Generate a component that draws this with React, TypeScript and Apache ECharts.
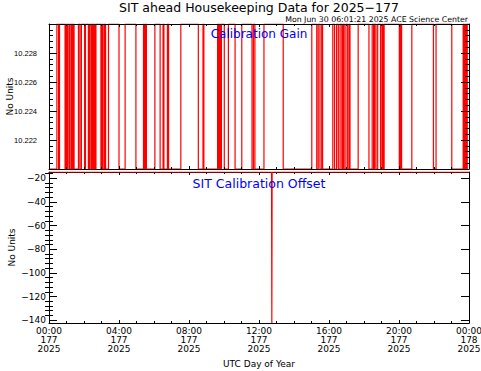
import React, { useEffect, useRef } from "react";
import * as echarts from "echarts";

// ---- data (minutes after 00:00 UTC of day 177) ----
const titleText = "SIT ahead Housekeeping Data for 2025\u2212177";
const stampText = "Mon Jun 30 06:01:21 2025 ACE Science Center";
const gainPanelLabel = "Calibration Gain";
const offsetPanelLabel = "SIT Calibration Offset";
const yAxisName = "No Units";
const xAxisName = "UTC Day of Year";

const dayMinutes = 1440;
const xTickHours = ["00:00", "04:00", "08:00", "12:00", "16:00", "20:00", "00:00"];
const xTickDays = ["177", "177", "177", "177", "177", "177", "178"];
const xTickYear = "2025";

// Calibration gain toggles between two levels; times (min) at which it switches
const gainLevels = [10.22, 10.23];
const gainSwitchMinutes = [
  27, 33, 36, 55, 58, 62, 65, 70, 75, 79, 82, 86, 101, 106, 111, 122, 125,
  135, 139, 144, 147, 151, 154, 158, 161, 178, 182, 185, 190, 194, 204, 240,
  261, 298, 324, 327, 331, 334, 363, 381, 391, 394, 406, 410, 452, 512, 528,
  531, 578, 581, 585, 588, 591, 601, 615, 638, 661, 696, 701, 706, 737, 803,
  901, 918, 923, 929, 935, 938, 973, 979, 986, 992, 998, 1004, 1008, 1012,
  1018, 1024, 1029, 1032, 1060, 1097, 1108, 1113, 1116, 1121, 1127, 1137,
  1142, 1145, 1149, 1201, 1205, 1209, 1244, 1318, 1327, 1381, 1420, 1424,
  1428, 1431, 1434,
];
const gainTicks = [10.222, 10.224, 10.226, 10.228];

// Calibration offset
const offsetMinutes = [0, 763, 764, 765, 1440];
const offsetValues = [-14.7, -14.7, -142.4, -14.7, -14.7];
const offsetTicks = [-140, -120, -100, -80, -60, -40, -20];

const FONT = "DejaVu Sans";

export default function App() {
  const ref = useRef<HTMLDivElement>(null);
  useEffect(() => {
    if (!ref.current) return;
    const chart = echarts.init(ref.current, null, { renderer: "svg" });

    // build gain step data
    const gainData: [number, number][] = [[0, gainLevels[0]]];
    gainSwitchMinutes.forEach((t, i) => {
      gainData.push([t, gainLevels[(i + 1) % 2]]);
    });
    gainData.push([dayMinutes, gainLevels[gainSwitchMinutes.length % 2]]);

    const offsetData = offsetMinutes.map((t, i) => [t, offsetValues[i]]);

    const offMin = Math.min(...offsetValues);
    const offMax = Math.max(...offsetValues);
    const offsetMinor: number[] = [];
    for (let v = -140; v <= offMax; v += 4) if (v % 20 !== 0) offsetMinor.push(v);

    const black = "#000";
    const axLine = { show: true, lineStyle: { color: black, width: 1 } };

    const xBase = (grid: number, pos: "top" | "bottom", labels: boolean) => ({
      gridIndex: grid,
      type: "value",
      position: pos,
      min: 0,
      max: dayMinutes,
      interval: 240,
      z: grid === 0 ? 5 : 0,
      axisLine: { ...axLine, onZero: false },
      axisTick: { show: true, inside: true, length: 3, lineStyle: { color: black } },
      minorTick: { show: true, splitNumber: 4, length: 2, lineStyle: { color: black } },
      splitLine: { show: false },
      axisLabel: labels
        ? {
            show: true,
            color: black,
            fontFamily: FONT,
            fontSize: 9,
            lineHeight: 9,
            margin: 3,
            formatter: (v: number) => {
              const i = Math.round(v / 240);
              return `${xTickHours[i]}\n${xTickDays[i]}\n${xTickYear}`;
            },
          }
        : { show: false },
      name: labels ? xAxisName : "",
      nameLocation: "middle",
      nameGap: 36,
      nameMoveOverlap: false,
      nameTextStyle: { color: black, fontFamily: FONT, fontSize: 9 },
    });

    const option: any = {
      animation: false,
      backgroundColor: "#fff",
      grid: [
        { left: 49, right: 12, top: 24, height: 145, containLabel: false, outerBoundsMode: "none" },
        { left: 49, right: 12, top: 172, height: 151, containLabel: false, outerBoundsMode: "none" },
      ],
      xAxis: [
        xBase(0, "bottom", false),
        xBase(0, "top", false),
        xBase(1, "bottom", true),
        xBase(1, "top", false),
      ],
      yAxis: [
        // 0: gain left
        {
          gridIndex: 0,
          type: "value",
          position: "left",
          min: gainLevels[0],
          max: gainLevels[1],
          interval: 0.002,
          z: 5,
          axisLine: { ...axLine, onZero: false },
          axisTick: { show: true, inside: true, length: 8, lineStyle: { color: black } },
          minorTick: { show: true, splitNumber: 5, length: 4, lineStyle: { color: black } },
          splitLine: { show: false },
          axisLabel: {
            show: true,
            color: black,
            fontFamily: "Liberation Sans",
            fontSize: 7.5,
            margin: 12,
            customValues: gainTicks,
            formatter: (v: number) => v.toFixed(3),
          },
          name: yAxisName,
          nameLocation: "middle",
          nameGap: 35,
          nameMoveOverlap: false,
          nameTextStyle: { color: black, fontFamily: FONT, fontSize: 9 },
        },
        // 1: gain right
        {
          gridIndex: 0,
          type: "value",
          position: "right",
          min: gainLevels[0],
          max: gainLevels[1],
          interval: 0.002,
          z: 5,
          axisLine: { ...axLine, onZero: false },
          axisTick: { show: true, inside: true, length: 8, lineStyle: { color: black } },
          minorTick: { show: true, splitNumber: 5, length: 4, lineStyle: { color: black } },
          splitLine: { show: false },
          axisLabel: { show: false },
        },
        // 2: offset left (major)
        {
          gridIndex: 1,
          type: "value",
          position: "left",
          min: offMin,
          max: offMax,
          axisLine: { ...axLine, onZero: false },
          axisTick: { show: true, inside: true, length: 8, customValues: offsetTicks, lineStyle: { color: black } },
          splitLine: { show: false },
          axisLabel: {
            show: true,
            color: black,
            fontFamily: FONT,
            fontSize: 9,
            margin: 3,
            customValues: offsetTicks,
            formatter: (v: number) => (v < 0 ? "\u2212" + Math.abs(v) : String(v)),
          },
          name: yAxisName,
          nameLocation: "middle",
          nameGap: 33,
          nameMoveOverlap: false,
          nameTextStyle: { color: black, fontFamily: FONT, fontSize: 9 },
        },
        // 3: offset left (minor)
        {
          gridIndex: 1,
          type: "value",
          position: "left",
          min: offMin,
          max: offMax,
          axisLine: { show: false },
          axisTick: { show: true, inside: true, length: 4, customValues: offsetMinor, lineStyle: { color: black } },
          splitLine: { show: false },
          axisLabel: { show: false },
        },
        // 4: offset right (major)
        {
          gridIndex: 1,
          type: "value",
          position: "right",
          min: offMin,
          max: offMax,
          axisLine: { ...axLine, onZero: false },
          axisTick: { show: true, inside: true, length: 8, customValues: offsetTicks, lineStyle: { color: black } },
          splitLine: { show: false },
          axisLabel: { show: false },
        },
        // 5: offset right (minor)
        {
          gridIndex: 1,
          type: "value",
          position: "right",
          min: offMin,
          max: offMax,
          axisLine: { show: false },
          axisTick: { show: true, inside: true, length: 4, customValues: offsetMinor, lineStyle: { color: black } },
          splitLine: { show: false },
          axisLabel: { show: false },
        },
      ],
      series: [
        {
          type: "line",
          xAxisIndex: 0,
          yAxisIndex: 0,
          data: gainData,
          step: "end",
          showSymbol: false,
          symbol: "none",
          z: 2,
          lineStyle: { color: "#ff0000", width: 1.2 },
        },
        {
          type: "line",
          xAxisIndex: 2,
          yAxisIndex: 2,
          data: offsetData,
          showSymbol: false,
          symbol: "none",
          z: 6,
          lineStyle: { color: "#ff0000", width: 1.2 },
        },
      ],
      graphic: [
        {
          type: "text",
          x: 259,
          y: 7,
          z: 10,
          style: {
            text: titleText,
            fill: black,
            font: `12.5px "${FONT}"`,
            textAlign: "center",
            textVerticalAlign: "middle",
          },
        },
        {
          type: "text",
          x: 468,
          y: 19.5,
          z: 10,
          style: {
            text: stampText,
            fill: black,
            font: `7.8px "${FONT}"`,
            textAlign: "right",
            textVerticalAlign: "middle",
          },
        },
        {
          type: "text",
          x: 259,
          y: 34,
          z: 10,
          style: {
            text: gainPanelLabel,
            fill: "#0000ff",
            font: `12px "${FONT}"`,
            textAlign: "center",
            textVerticalAlign: "middle",
          },
        },
        {
          type: "text",
          x: 259,
          y: 183,
          z: 10,
          style: {
            text: offsetPanelLabel,
            fill: "#0000ff",
            font: `12.5px "${FONT}"`,
            textAlign: "center",
            textVerticalAlign: "middle",
          },
        },
      ],
    };
    chart.setOption(option);
    return () => chart.dispose();
  }, []);
  return <div ref={ref} style={{ width: 481, height: 371, position: "absolute", left: 0, top: 0 }} />;
}
